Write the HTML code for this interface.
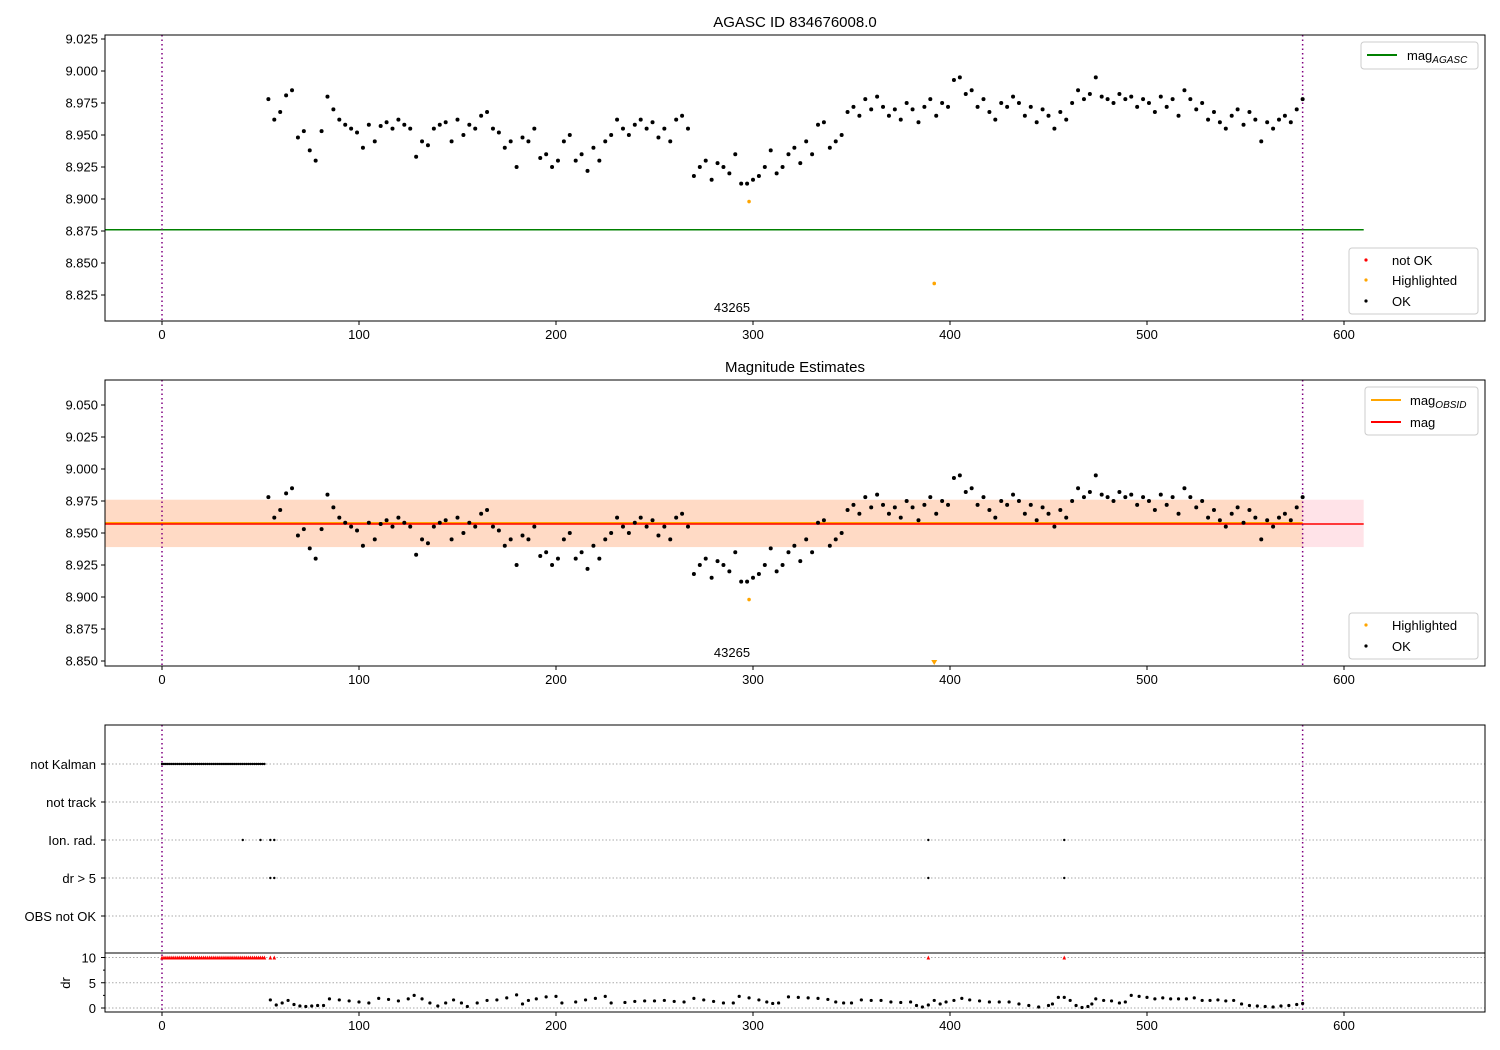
<!DOCTYPE html>
<html><head><meta charset="utf-8"><style>
body{margin:0;background:#fff}
svg{display:block;font-family:"Liberation Sans","DejaVu Sans",sans-serif}
</style></head><body>
<svg id="fig" width="1500" height="1050" viewBox="0 0 1500 1050"></svg>
<script>
// ---- data ----
const magX = [54,57,60,63,66,69,72,75,78,81,84,87,90,93,96,99,102,105,108,111,114,117,120,123,126,129,132,135,138,141,144,147,150,153,156,159,162,165,168,171,174,177,180,183,186,189,192,195,198,201,204,207,210,213,216,219,222,225,228,231,234,237,240,243,246,249,252,255,258,261,264,267,270,273,276,279,282,285,288,291,294,297,300,303,306,309,312,315,318,321,324,327,330,333,336,339,342,345,348,351,354,357,360,363,366,369,372,375,378,381,384,387,390,393,396,399,402,405,408,411,414,417,420,423,426,429,432,435,438,441,444,447,450,453,456,459,462,465,468,471,474,477,480,483,486,489,492,495,498,501,504,507,510,513,516,519,522,525,528,531,534,537,540,543,546,549,552,555,558,561,564,567,570,573,576,579];
const magY = [8.978,8.962,8.968,8.981,8.985,8.948,8.953,8.938,8.930,8.953,8.980,8.970,8.962,8.958,8.955,8.952,8.940,8.958,8.945,8.957,8.960,8.955,8.962,8.958,8.955,8.933,8.945,8.942,8.955,8.958,8.960,8.945,8.962,8.950,8.958,8.955,8.965,8.968,8.955,8.952,8.940,8.945,8.925,8.948,8.945,8.955,8.932,8.935,8.925,8.930,8.945,8.950,8.930,8.935,8.922,8.940,8.930,8.945,8.950,8.962,8.955,8.950,8.958,8.962,8.955,8.960,8.948,8.955,8.945,8.962,8.965,8.955,8.918,8.925,8.930,8.915,8.928,8.925,8.920,8.935,8.912,8.912,8.915,8.918,8.925,8.938,8.920,8.925,8.935,8.940,8.928,8.945,8.935,8.958,8.960,8.940,8.945,8.950,8.968,8.972,8.965,8.978,8.970,8.980,8.972,8.965,8.970,8.962,8.975,8.970,8.960,8.972,8.978,8.965,8.975,8.972,8.993,8.995,8.982,8.985,8.972,8.978,8.968,8.962,8.975,8.972,8.980,8.975,8.965,8.972,8.960,8.970,8.965,8.955,8.968,8.962,8.975,8.985,8.978,8.982,8.995,8.980,8.978,8.975,8.982,8.978,8.980,8.972,8.978,8.975,8.968,8.980,8.972,8.978,8.965,8.985,8.978,8.970,8.975,8.962,8.968,8.960,8.955,8.965,8.970,8.958,8.968,8.962,8.945,8.960,8.955,8.962,8.965,8.960,8.970,8.978];
const hlX = [298, 392];
const hlY = [8.898, 8.834];
const magAgasc = 8.876;
const magObs = 8.957;
const magBand = [8.939, 8.976];
const drX = [55,58,61,64,67,70,73,76,79,82,85,90,95,100,105,110,115,120,125,128,132,136,140,144,148,152,155,160,165,170,175,180,183,186,190,195,200,203,210,215,220,225,228,235,240,245,250,255,260,265,270,275,280,285,290,293,298,303,307,310,313,318,323,328,333,338,342,346,350,355,360,365,370,375,380,383,386,389,392,395,398,402,406,410,415,420,425,430,435,440,445,450,452,455,458,461,464,467,470,472,474,478,482,486,489,492,496,500,504,508,512,516,520,524,528,532,536,540,544,548,552,556,560,564,568,572,576,579];
const drY = [1.6,0.6,1.0,1.5,0.7,0.4,0.3,0.4,0.5,0.5,1.8,1.6,1.4,1.2,1.0,1.9,1.7,1.4,1.8,2.5,1.8,1.0,0.4,1.0,1.6,1.0,0.3,1.0,1.5,1.6,2.0,2.6,0.8,1.5,1.8,2.2,2.3,1.0,1.2,1.6,1.9,2.3,1.0,1.1,1.3,1.4,1.4,1.5,1.3,1.2,1.9,1.6,1.3,1.0,1.0,2.3,2.0,1.6,1.2,0.9,1.0,2.2,2.1,2.0,1.9,1.7,1.2,1.0,1.0,1.6,1.5,1.5,1.2,1.1,1.2,0.5,0.2,0.6,1.5,0.8,1.2,1.5,1.9,1.6,1.4,1.2,1.2,1.2,0.8,0.5,0.2,0.5,0.8,2.1,2.1,1.5,0.5,0.1,0.3,0.8,1.8,1.5,1.4,1.0,1.2,2.5,2.3,2.1,1.8,2.0,1.8,1.8,1.8,2.0,1.5,1.5,1.6,1.4,1.5,0.8,0.5,0.4,0.3,0.2,0.4,0.5,0.7,0.9];
const kalmanX = [0,1,2,3,4,5,6,7,8,9,10,11,12,13,14,15,16,17,18,19,20,21,22,23,24,25,26,27,28,29,30,31,32,33,34,35,36,37,38,39,40,41,42,43,44,45,46,47,48,49,50,51,52];
const ionX = [41,50,55,57,389,458];
const dr5X = [55,57,389,458];
const flagRows = ["not Kalman","not track","Ion. rad.","dr > 5","OBS not OK"];
const xTicks = [0,100,200,300,400,500,600];
const yTicksTop = [8.825,8.850,8.875,8.900,8.925,8.950,8.975,9.000,9.025];
const yTicksMid = [8.850,8.875,8.900,8.925,8.950,8.975,9.000,9.025,9.050];
const drTicks = [0,5,10];
const vLines = [0, 579];

// ---- helpers ----
const NS="http://www.w3.org/2000/svg";
const svg=document.getElementById('fig');
function mk(tag,attrs,parent){const e=document.createElementNS(NS,tag);for(const k in attrs)e.setAttribute(k,attrs[k]);(parent||svg).appendChild(e);return e;}
const L=105,R=1485;
const X=v=>162+(v)*1.97;
const yTop=v=>39+(9.025-v)*1280;
const yMid=v=>405+(9.050-v)*1280;
const yDr=v=>1008-v*5.05;
const rowY=[764,802,840,878,916];

function xAxis(bottom,g){
  xTicks.forEach(t=>{
    const l=mk('line',{x1:X(t),x2:X(t),y1:bottom,y2:bottom+4,stroke:'#000','stroke-width':1},g);
    
    
    const tx=mk('text',{x:X(t),y:bottom+18,'font-size':13,'text-anchor':'middle'},g);
    tx.textContent=t;
    
    
  });
}
function yAxis(ticks,f,g,fmt){
  ticks.forEach(t=>{
    mk('line',{x1:L-4,x2:L,y1:f(t),y2:f(t),stroke:'#000'},g);
    const tx=mk('text',{x:L-7,y:f(t)+4.5,'font-size':13,'text-anchor':'end'},g);
    tx.textContent=fmt(t);
    
    
  });
}
function frame(top,bot,g){
  const r=mk('rect',{x:L,y:top,width:R-L,height:bot-top,fill:'none',stroke:'#000','stroke-width':1},g);
  
  
}
function vlines(top,bot,g){
  vLines.forEach(v=>{
    const l=mk('line',{x1:X(v),x2:X(v),y1:top,y2:bot,stroke:'#800080','stroke-width':1.5,'stroke-dasharray':'1.5,3'},g);
    
    
  });
}
function dots(xs,ys,f,g,color,r,name){
  xs.forEach((x,i)=>{
    const c=mk('circle',{cx:X(x),cy:f(ys[i]),r:r,fill:color},g);
    
    
  });
}
function legendBox(x,y,w,h,g){
  const r=mk('rect',{x:x,y:y,width:w,height:h,rx:3,fill:'#fff','fill-opacity':0.8,stroke:'#ccc'},g);
  
  
}
function text(x,y,s,size,anchor,g,name){
  const t=mk('text',{x:x,y:y,'font-size':size,'text-anchor':anchor||'start'},g);
  t.textContent=s;
  
  
  return t;
}

// ---- panel 1 ----
const g1=mk('g',{});


text(795,27,'AGASC ID 834676008.0',15,'middle',g1,'top-title');
const gl=mk('line',{x1:L,x2:X(610),y1:yTop(magAgasc),y2:yTop(magAgasc),stroke:'#008000','stroke-width':1.5},g1);


vlines(35,321,g1);
dots(magX,magY,yTop,g1,'#000',2,'ok-point');
dots(hlX,hlY,yTop,g1,'#ffa500',1.8,'highlighted-point');
text(732,312,'43265',13,'middle',g1,'obsid-label');
frame(35,321,g1);
yAxis(yTicksTop,yTop,g1,t=>t.toFixed(3));
xAxis(321,g1);
legendBox(1361,42,117,27,g1);
mk('line',{x1:1367,x2:1397,y1:55,y2:55,stroke:'#008000','stroke-width':2},g1);
const t1=text(1407,60,'mag',13,'start',g1,'legend-mag-agasc');
const s1=mk('tspan',{'font-size':10,'font-style':'italic',dy:3},t1);s1.textContent='AGASC';
legendBox(1349,248,129,66,g1);
[['not OK','#ff0000',260],['Highlighted','#ffa500',280],['OK','#000',301]].forEach(e=>{
  mk('circle',{cx:1366,cy:e[2],r:1.6,fill:e[1]},g1);
  text(1392,e[2]+5,e[0],13,'start',g1,'legend-entry');
});

// ---- panel 2 ----
const g2=mk('g',{});


text(795,372,'Magnitude Estimates',15,'middle',g2,'middle-title');
const band=mk('rect',{x:L,y:yMid(magBand[1]),width:X(610)-L,height:yMid(magBand[0])-yMid(magBand[1]),fill:'#ffc0cb','fill-opacity':0.45},g2);


const band2=mk('rect',{x:X(-29),y:yMid(magBand[1]),width:X(579)-X(-29),height:yMid(magBand[0])-yMid(magBand[1]),fill:'#ffa500','fill-opacity':0.15},g2);


const ol=mk('line',{x1:L,x2:X(579),y1:yMid(magObs)-1,y2:yMid(magObs)-1,stroke:'#ffa500','stroke-width':2},g2);


const rl=mk('line',{x1:L,x2:X(610),y1:yMid(magObs),y2:yMid(magObs),stroke:'#ff0000','stroke-width':1.5},g2);


vlines(380,666,g2);
dots(magX,magY,yMid,g2,'#000',2,'ok-point');
hlX.forEach((x,i)=>{
  if(hlY[i]>=8.846){const c=mk('circle',{cx:X(x),cy:yMid(hlY[i]),r:1.8,fill:'#ffa500'},g2);
    
    }
  else{const p=mk('path',{d:`M${X(x)-3},660 L${X(x)+3},660 L${X(x)},665 Z`,fill:'#ffa500'},g2);
    
    }
});
text(732,657,'43265',13,'middle',g2,'obsid-label');
frame(380,666,g2);
yAxis(yTicksMid,yMid,g2,t=>t.toFixed(3));
xAxis(666,g2);
legendBox(1365,387,113,48,g2);
mk('line',{x1:1371,x2:1401,y1:400,y2:400,stroke:'#ffa500','stroke-width':2},g2);
const t2=text(1410,405,'mag',13,'start',g2,'legend-mag-obsid');
const s2=mk('tspan',{'font-size':10,'font-style':'italic',dy:3},t2);s2.textContent='OBSID';
mk('line',{x1:1371,x2:1401,y1:422,y2:422,stroke:'#ff0000','stroke-width':2},g2);
text(1410,427,'mag',13,'start',g2,'legend-mag');
legendBox(1349,613,129,46,g2);
[['Highlighted','#ffa500',625],['OK','#000',646]].forEach(e=>{
  mk('circle',{cx:1366,cy:e[2],r:1.6,fill:e[1]},g2);
  text(1392,e[2]+5,e[0],13,'start',g2,'legend-entry');
});

// ---- panel 3 ----
const g3=mk('g',{});


flagRows.forEach((r,i)=>{
  mk('line',{x1:L,x2:R,y1:rowY[i],y2:rowY[i],stroke:'#aaa','stroke-dasharray':'1.5,2'},g3);
  mk('line',{x1:L-4,x2:L,y1:rowY[i],y2:rowY[i],stroke:'#000'},g3);
  text(L-9,rowY[i]+5,r,13,'end',g3,'flag-row-label');
});
drTicks.forEach(t=>{
  mk('line',{x1:L,x2:R,y1:yDr(t),y2:yDr(t),stroke:'#aaa','stroke-dasharray':'1.5,2'},g3);
  mk('line',{x1:L-4,x2:L,y1:yDr(t),y2:yDr(t),stroke:'#000'},g3);
  text(L-9,yDr(t)+5,t,13,'end',g3,'dr-tick-label');
});
mk('line',{x1:L-2,x2:L,y1:yDr(7.5),y2:yDr(7.5),stroke:'#000'},g3);
mk('line',{x1:L-2,x2:L,y1:yDr(2.5),y2:yDr(2.5),stroke:'#000'},g3);
const yl=text(70,983,'dr',13,'middle',g3,'dr-axis-title');yl.setAttribute('transform','rotate(-90 70 983)');
vlines(725,1012,g3);
dots(kalmanX,kalmanX.map(()=>0),()=>rowY[0],g3,'#000',1.2,'not-kalman-point');
dots(ionX,ionX.map(()=>0),()=>rowY[2],g3,'#000',1.2,'ion-rad-point');
dots(dr5X,dr5X.map(()=>0),()=>rowY[3],g3,'#000',1.2,'dr-gt-5-point');
kalmanX.concat(dr5X).forEach(x=>{
  const p=mk('path',{d:`M${X(x)-1.8},${yDr(10)+2} L${X(x)+1.8},${yDr(10)+2} L${X(x)},${yDr(10)-2} Z`,fill:'#ff0000'},g3);
  
  
});
dots(drX,drY,yDr,g3,'#000',1.6,'dr-point');
frame(725,1012,g3);
mk('line',{x1:L,x2:R,y1:953,y2:953,stroke:'#000','stroke-width':1},g3);
xAxis(1012,g3);
</script>
</body></html>
